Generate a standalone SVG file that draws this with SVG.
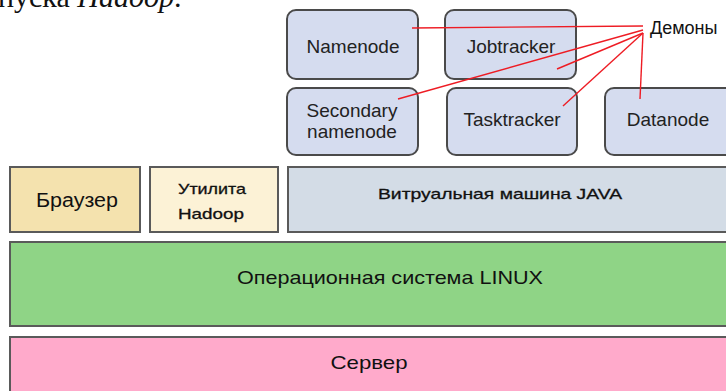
<svg xmlns="http://www.w3.org/2000/svg" width="726" height="391" viewBox="0 0 726 391">
<style>
.node rect.r{fill:#d5dcef;stroke:#4a4a4a;stroke-width:2}
.lbl{font-family:"Liberation Sans",Arial,sans-serif;font-size:19px;fill:#222;text-anchor:middle}
.cal{font-family:"Liberation Sans",Arial,sans-serif;fill:#111;text-anchor:middle}
.layer{stroke:#5a5a5a;stroke-width:2}
.conn line{stroke:#ee1c24;stroke-width:1.4}
</style>
<rect width="726" height="391" fill="#fff"/>
<text x="-2" y="7" font-family="'Liberation Serif',serif" font-size="30" fill="#111">пуска <tspan font-style="italic">Hadoop</tspan>.</text>

<g id="browser"><rect class="layer" x="10" y="167" width="130" height="65" fill="#f4e2ae"/><text class="cal" x="77" y="207" font-size="20" textLength="82" lengthAdjust="spacingAndGlyphs">Браузер</text></g>
<g id="hadoop-util"><rect class="layer" x="150" y="167" width="128" height="65" fill="#fcf2d6"/><text class="cal" x="212" y="194" font-size="15" textLength="68" lengthAdjust="spacingAndGlyphs" stroke="#111" stroke-width="0.3">Утилита</text><text class="cal" x="211" y="219" font-size="15" textLength="66" lengthAdjust="spacingAndGlyphs" stroke="#111" stroke-width="0.3">Hadoop</text></g>
<g id="jvm"><rect class="layer" x="288" y="167" width="450" height="65" fill="#d3dce6"/><text class="cal" x="500" y="199" font-size="15" textLength="244" lengthAdjust="spacingAndGlyphs" stroke="#111" stroke-width="0.3">Витруальная машина JAVA</text></g>
<g id="linux"><rect class="layer" x="10" y="242" width="728" height="84" fill="#8fd486"/><text class="cal" x="390" y="284" font-size="19" textLength="306" lengthAdjust="spacingAndGlyphs">Операционная система LINUX</text></g>
<g id="server"><rect class="layer" x="10" y="337" width="728" height="70" fill="#ffaacb"/><text class="cal" x="369" y="369" font-size="19" textLength="77" lengthAdjust="spacingAndGlyphs">Сервер</text></g>

<g id="namenode" class="node"><rect class="r" x="287" y="10" width="131" height="69" rx="9"/><text class="lbl" x="353" y="53">Namenode</text></g>
<g id="jobtracker" class="node"><rect class="r" x="445" y="10" width="131" height="69" rx="9"/><text class="lbl" x="511" y="53">Jobtracker</text></g>
<g id="secondary" class="node"><rect class="r" x="287" y="88" width="131" height="67" rx="9"/><text class="lbl" x="352" y="117">Secondary</text><text class="lbl" x="352" y="138">namenode</text></g>
<g id="tasktracker" class="node"><rect class="r" x="447" y="88" width="130" height="67" rx="9"/><text class="lbl" x="512" y="126">Tasktracker</text></g>
<g id="datanode" class="node"><rect class="r" x="605" y="88" width="135" height="67" rx="9"/><text class="lbl" x="668" y="126">Datanode</text></g>

<g id="daemons"><text x="650" y="34" font-family="'Liberation Sans',Arial,sans-serif" font-size="18" fill="#111">Демоны</text></g>

<g id="connectors" class="conn">
<line x1="412" y1="28" x2="643" y2="26"/>
<line x1="398" y1="99" x2="643" y2="30"/>
<line x1="557" y1="69" x2="643" y2="33"/>
<line x1="563" y1="106" x2="643" y2="33"/>
<line x1="640" y1="99" x2="643" y2="33"/>
</g>
</svg>
